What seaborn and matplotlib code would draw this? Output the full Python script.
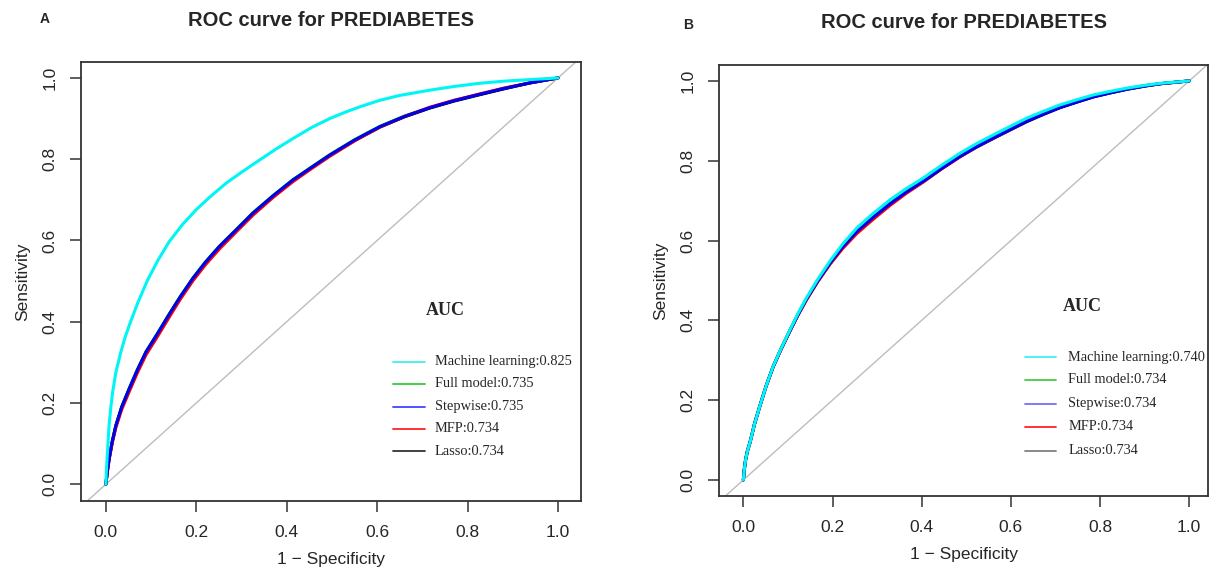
import matplotlib
matplotlib.use("Agg")
import matplotlib.pyplot as plt
import seaborn as sns

sns.set_theme(style="ticks")
plt.rcParams["font.family"] = ["Liberation Sans", "DejaVu Sans"]

# ── DATA ────────────────────────────────────────────────────
MODELS = ["Machine learning", "Full model", "Stepwise", "MFP", "Lasso"]
COLORS = ["#00f5f5", "#00cc00", "#0000ee", "#ff0000", "#000000"]
LEG_COLORS_A = ["#40f0f0", "#33cc33", "#4444ff", "#ff2222", "#333333"]
LEG_COLORS_B = ["#40f0f0", "#44cc44", "#7070ff", "#ff2222", "#808080"]

AUC_A = ["0.825", "0.735", "0.735", "0.734", "0.734"]
AUC_B = ["0.740", "0.734", "0.734", "0.734", "0.734"]

# Panel A
ml_a_fpr = [0, 0.001, 0.003, 0.007, 0.011, 0.015, 0.022, 0.033, 0.042, 0.052, 0.07,
            0.092, 0.115, 0.14, 0.17, 0.2, 0.23, 0.266, 0.3, 0.34, 0.375, 0.414,
            0.455, 0.495, 0.53, 0.562, 0.606, 0.65, 0.717, 0.77, 0.828, 0.88, 0.939, 1.0]
ml_a_tpr = [0, 0.03, 0.07, 0.144, 0.19, 0.227, 0.275, 0.325, 0.36, 0.392, 0.445,
            0.502, 0.551, 0.597, 0.640, 0.676, 0.707, 0.741, 0.768, 0.798, 0.824, 0.851,
            0.878, 0.900, 0.916, 0.929, 0.945, 0.957, 0.970, 0.979, 0.987, 0.992, 0.996, 1.0]

lr_a_fpr = [0, 0.003, 0.007, 0.014, 0.022, 0.035, 0.052, 0.07, 0.089, 0.115, 0.14,
            0.165, 0.192, 0.22, 0.251, 0.29, 0.325, 0.37, 0.414, 0.455, 0.495, 0.55,
            0.606, 0.66, 0.717, 0.77, 0.828, 0.88, 0.939, 1.0]
full_a_tpr = [0, 0.03, 0.062, 0.105, 0.145, 0.191, 0.237, 0.283, 0.327, 0.373, 0.419,
              0.463, 0.507, 0.547, 0.586, 0.629, 0.668, 0.711, 0.750, 0.781, 0.811, 0.848,
              0.881, 0.906, 0.927, 0.944, 0.960, 0.974, 0.988, 1.0]
step_a_tpr = [0, 0.03, 0.062, 0.105, 0.144, 0.190, 0.236, 0.282, 0.326, 0.372, 0.418,
              0.462, 0.506, 0.546, 0.585, 0.628, 0.667, 0.710, 0.749, 0.780, 0.810, 0.847,
              0.880, 0.905, 0.927, 0.944, 0.960, 0.974, 0.988, 1.0]
mfp_a_tpr = [0, 0.029, 0.060, 0.101, 0.139, 0.184, 0.229, 0.275, 0.319, 0.365, 0.411,
             0.456, 0.500, 0.540, 0.579, 0.623, 0.662, 0.706, 0.745, 0.777, 0.807, 0.845,
             0.879, 0.905, 0.928, 0.945, 0.961, 0.975, 0.988, 1.0]
lasso_a_tpr = [0, 0.03, 0.061, 0.104, 0.143, 0.189, 0.235, 0.281, 0.325, 0.371, 0.417,
               0.461, 0.505, 0.545, 0.584, 0.627, 0.666, 0.709, 0.748, 0.779, 0.809, 0.846,
               0.879, 0.904, 0.926, 0.943, 0.959, 0.973, 0.988, 1.0]

# Panel B
b_fpr = [0, 0.002, 0.005, 0.009, 0.015, 0.025, 0.037, 0.051, 0.067, 0.085, 0.105,
         0.123, 0.142, 0.167, 0.194, 0.222, 0.254, 0.29, 0.329, 0.365, 0.404, 0.445,
         0.486, 0.523, 0.561, 0.6, 0.636, 0.673, 0.71, 0.748, 0.785, 0.823, 0.86,
         0.9, 0.935, 1.0]
ml_b_tpr = [0, 0.025, 0.05, 0.072, 0.094, 0.14, 0.185, 0.235, 0.285, 0.33, 0.377,
            0.418, 0.457, 0.503, 0.548, 0.590, 0.631, 0.667, 0.702, 0.73, 0.757, 0.789,
            0.819, 0.843, 0.865, 0.887, 0.907, 0.924, 0.94, 0.953, 0.965, 0.974, 0.982,
            0.989, 0.994, 1.0]
full_b_tpr = [0, 0.025, 0.05, 0.072, 0.094, 0.14, 0.185, 0.235, 0.285, 0.330, 0.376,
              0.416, 0.455, 0.500, 0.544, 0.584, 0.623, 0.658, 0.693, 0.722, 0.750, 0.782,
              0.812, 0.836, 0.858, 0.880, 0.900, 0.918, 0.934, 0.948, 0.961, 0.971, 0.980,
              0.988, 0.993, 1.0]
step_b_tpr = [0, 0.025, 0.05, 0.072, 0.094, 0.14, 0.185, 0.235, 0.284, 0.329, 0.375,
              0.415, 0.454, 0.499, 0.543, 0.583, 0.622, 0.657, 0.692, 0.721, 0.749, 0.781,
              0.811, 0.835, 0.857, 0.879, 0.899, 0.917, 0.933, 0.947, 0.960, 0.970, 0.979,
              0.987, 0.993, 1.0]
mfp_b_tpr = [0, 0.025, 0.05, 0.072, 0.094, 0.14, 0.185, 0.235, 0.284, 0.328, 0.374,
             0.414, 0.452, 0.497, 0.540, 0.579, 0.617, 0.652, 0.688, 0.718, 0.747, 0.780,
             0.810, 0.835, 0.857, 0.879, 0.900, 0.918, 0.934, 0.948, 0.961, 0.971, 0.980,
             0.988, 0.993, 1.0]
lasso_b_tpr = [0, 0.025, 0.05, 0.072, 0.094, 0.14, 0.185, 0.235, 0.284, 0.329, 0.375,
               0.415, 0.453, 0.498, 0.542, 0.582, 0.621, 0.656, 0.691, 0.720, 0.748, 0.780,
               0.810, 0.834, 0.856, 0.878, 0.898, 0.916, 0.933, 0.947, 0.960, 0.970, 0.979,
               0.987, 0.993, 1.0]

TICKS = [0.0, 0.2, 0.4, 0.6, 0.8, 1.0]
TICK_LABELS = ["0.0", "0.2", "0.4", "0.6", "0.8", "1.0"]

# drawing order (bottom -> top): Full model, Lasso, MFP, Stepwise, Machine learning
DRAW_ORDER = [1, 4, 3, 2, 0]


def draw_panel(ax, curves, auc, leg_colors, xlim, ylim, leg_pos):
    ax.axline((0, 0), (1, 1), color="#bdbdbd", lw=1.0, zorder=1)
    for z, idx in enumerate(DRAW_ORDER):
        fpr, tpr = curves[idx]
        sns.lineplot(x=fpr, y=tpr, sort=False, color=COLORS[idx], lw=2.2,
                     ax=ax, zorder=3 + z)
    ax.set_xlim(*xlim)
    ax.set_ylim(*ylim)
    ax.set_xticks(TICKS)
    ax.set_xticklabels(TICK_LABELS, fontsize=12.5)
    ax.set_yticks(TICKS)
    ax.set_yticklabels(TICK_LABELS, fontsize=12.5, rotation=90, va="center")
    ax.tick_params(direction="out", length=8, width=1.1, color="#333333", pad=9)
    for s in ax.spines.values():
        s.set_visible(True)
        s.set_linewidth(1.3)
        s.set_color("#333333")
    ax.set_xlabel("1 \u2212 Specificity", fontsize=12.5, labelpad=9)
    ax.set_ylabel("Sensitivity", fontsize=12.5, labelpad=9)

    # AUC legend block
    auc_x, auc_y, lx0, lx1, tx, ys = leg_pos
    ax.text(auc_x, auc_y, "AUC", transform=ax.transAxes, ha="center", va="center",
            fontsize=13, fontweight="bold", family="Liberation Serif")
    for i, name in enumerate(MODELS):
        ax.plot([lx0, lx1], [ys[i], ys[i]], transform=ax.transAxes,
                color=leg_colors[i], lw=1.3)
        ax.text(tx, ys[i], f"{name}:{auc[i]}", transform=ax.transAxes,
                ha="left", va="center", fontsize=10.4, family="Liberation Serif")


fig = plt.figure(figsize=(12.22, 5.76), dpi=100)

ax_a = fig.add_axes([0.0663, 0.1297, 0.4092, 0.7632])
curves_a = [(ml_a_fpr, ml_a_tpr), (lr_a_fpr, full_a_tpr), (lr_a_fpr, step_a_tpr),
            (lr_a_fpr, mfp_a_tpr), (lr_a_fpr, lasso_a_tpr)]
draw_panel(ax_a, curves_a, AUC_A, LEG_COLORS_A, (-0.055, 1.051), (-0.042, 1.04),
           (0.728, 0.433, 0.624, 0.688, 0.708, [0.317, 0.267, 0.215, 0.165, 0.114]))

ax_b = fig.add_axes([0.5886, 0.1384, 0.3999, 0.7488])
curves_b = [(b_fpr, ml_b_tpr), (b_fpr, full_b_tpr), (b_fpr, step_b_tpr),
            (b_fpr, mfp_b_tpr), (b_fpr, lasso_b_tpr)]
draw_panel(ax_b, curves_b, AUC_B, LEG_COLORS_B, (-0.054, 1.042), (-0.041, 1.04),
           (0.742, 0.441, 0.626, 0.689, 0.714, [0.322, 0.270, 0.214, 0.161, 0.105]))

fig.text(331 / 1222, 1 - 20 / 576, "ROC curve for PREDIABETES", ha="center", va="center",
         fontsize=14.5, fontweight="bold")
fig.text(45 / 1222, 1 - 19 / 576, "A", ha="center", va="center", fontsize=10, fontweight="bold")
fig.text(964 / 1222, 1 - 22 / 576, "ROC curve for PREDIABETES", ha="center", va="center",
         fontsize=14.5, fontweight="bold")
fig.text(688 / 1222, 1 - 25 / 576, "B", ha="center", va="center", fontsize=10, fontweight="bold")

fig.savefig("out.png", dpi=100, facecolor="white")
